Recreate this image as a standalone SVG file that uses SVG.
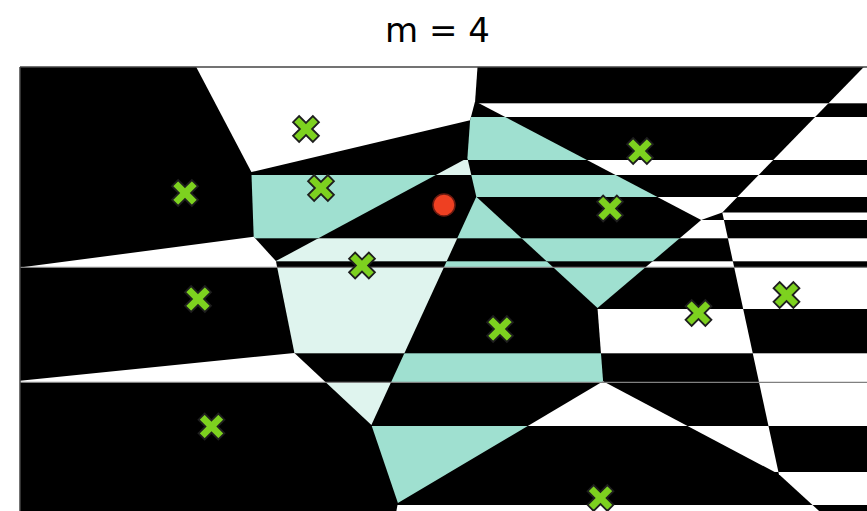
<svg xmlns="http://www.w3.org/2000/svg" width="867" height="511" viewBox="0 0 867 511">
<style>
.w{fill:#ffffff}
.t{fill:#9fe0d0}
.l{fill:#dff4ee}
.site{fill:#7dd11f;stroke:#1e1e1e;stroke-width:1.8;stroke-linejoin:miter}
.grid{stroke:#808080;stroke-width:1.2;fill:none}
.frame{stroke:#444;stroke-width:1.5;fill:none}
</style>
<defs>
<clipPath id="c1"><polygon points="196.2,67 477.5,67 475.1,101.2 470.1,120.2 251.4,172.1"/></clipPath>
<clipPath id="c3"><polygon points="251.4,172.1 470.1,120.2 467.4,158 275.9,261.1 253.7,236.7"/></clipPath>
<clipPath id="c4"><polygon points="467.4,158 476.3,196.8 371.4,425.1 294.4,352.9 275.9,261.1"/></clipPath>
<clipPath id="c5"><polygon points="20,267.6 253.7,236.7 275.9,261.1 294.4,352.9 20,380.7"/></clipPath>
<clipPath id="c6"><polygon points="20,380.7 294.4,352.9 371.4,425.1 397.9,503.1 396.4,511 20,511"/></clipPath>
<clipPath id="c7"><polygon points="476.3,196.8 597.5,307.9 603.1,381.2 397.9,503.1 371.4,425.1"/></clipPath>
<clipPath id="c8"><polygon points="477.5,67 863.8,67 722.3,212.4 701.2,220.1 475.1,101.2"/></clipPath>
<clipPath id="c9"><polygon points="475.1,101.2 701.2,220.1 597.5,307.9 476.3,196.8 467.4,158 470.1,120.2"/></clipPath>
<clipPath id="c10"><polygon points="701.2,220.1 722.3,212.4 778.9,474.3 603.1,381.2 597.5,307.9"/></clipPath>
<clipPath id="c11"><polygon points="722.3,212.4 863.8,67 870,67 870,511 819.1,511 778.9,474.3"/></clipPath>
<clipPath id="c12"><polygon points="397.9,503.1 603.1,381.2 778.9,474.3 819.1,511 396.4,511"/></clipPath>
<polygon id="xm" class="site" points="0,-6.08 6.86,-12.94 12.94,-6.86 6.08,0 12.94,6.86 6.86,12.94 0,6.08 -6.86,12.94 -12.94,6.86 -6.08,0 -12.94,-6.86 -6.86,-12.94"/>
</defs>
<rect x="0" y="0" width="867" height="511" fill="#ffffff"/>
<text x="437.5" y="42" font-family="DejaVu Sans, sans-serif" font-size="34" text-anchor="middle" fill="#000">m = 4</text>
<rect x="20" y="67" width="850" height="444" fill="#000"/>
<g id="cells">
<g id="cell-s1" clip-path="url(#c1)"><rect class="w" x="0" y="67" width="870" height="110"/></g>
<g id="cell-s2"></g>
<g id="cell-s3" clip-path="url(#c3)"><rect class="t" x="0" y="175" width="870" height="63.3"/></g>
<g id="cell-s4" clip-path="url(#c4)">
<rect class="l" x="0" y="160" width="870" height="15"/>
<rect class="l" x="0" y="238.3" width="870" height="23"/>
<rect class="l" x="0" y="267.3" width="870" height="86"/>
<rect class="l" x="0" y="382.3" width="870" height="43.7"/>
</g>
<g id="cell-s5" clip-path="url(#c5)"><rect class="w" x="0" y="230" width="870" height="37.3"/></g>
<g id="cell-s6" clip-path="url(#c6)"><rect class="w" x="0" y="350" width="870" height="32.3"/></g>
<g id="cell-s7" clip-path="url(#c7)">
<rect class="t" x="0" y="196" width="870" height="42.3"/>
<rect class="t" x="0" y="261.3" width="870" height="6"/>
<rect class="t" x="0" y="353.3" width="870" height="29"/>
<rect class="t" x="0" y="426" width="870" height="85"/>
</g>
<g id="cell-s8" clip-path="url(#c8)">
<rect class="w" x="0" y="103.3" width="870" height="13.7"/>
<rect class="w" x="0" y="160" width="870" height="15"/>
<rect class="w" x="0" y="197" width="870" height="25"/>
</g>
<g id="cell-s9" clip-path="url(#c9)">
<rect class="t" x="0" y="117" width="870" height="43"/>
<rect class="t" x="0" y="175" width="870" height="22"/>
<rect class="t" x="0" y="238.3" width="870" height="23"/>
<rect class="t" x="0" y="267.3" width="870" height="42"/>
</g>
<g id="cell-s10" clip-path="url(#c10)">
<rect class="w" x="0" y="220" width="870" height="18.3"/>
<rect class="w" x="0" y="261.3" width="870" height="6"/>
<rect class="w" x="0" y="309" width="870" height="44.3"/>
<rect class="w" x="0" y="426" width="870" height="46"/>
</g>
<g id="cell-s11" clip-path="url(#c11)">
<rect class="w" x="0" y="67" width="870" height="36.3"/>
<rect class="w" x="0" y="117" width="870" height="43"/>
<rect class="w" x="0" y="175" width="870" height="22"/>
<rect class="w" x="0" y="212.5" width="870" height="7.5"/>
<rect class="w" x="0" y="238.3" width="870" height="23"/>
<rect class="w" x="0" y="267.3" width="870" height="41.7"/>
<rect class="w" x="0" y="353.3" width="870" height="72.7"/>
<rect class="w" x="0" y="472" width="870" height="33"/>
</g>
<g id="cell-s12" clip-path="url(#c12)">
<rect class="w" x="0" y="380" width="870" height="46"/>
<rect class="w" x="0" y="505" width="870" height="6"/>
</g>
</g>
<g id="lines">
<line class="grid" x1="20" y1="267.3" x2="870" y2="267.3"/>
<line class="grid" x1="20" y1="382.3" x2="870" y2="382.3"/>
<line class="frame" x1="20" y1="67" x2="870" y2="67"/>
<line class="frame" x1="20" y1="67" x2="20" y2="511"/>
</g>
<g id="sites">
<use id="site-1" href="#xm" x="306" y="129"/>
<use id="site-2" href="#xm" x="185" y="193"/>
<use id="site-3" href="#xm" x="321" y="188"/>
<use id="site-4" href="#xm" x="362" y="265.5"/>
<use id="site-5" href="#xm" x="198" y="299"/>
<use id="site-6" href="#xm" x="211.5" y="426.5"/>
<use id="site-7" href="#xm" x="500" y="329"/>
<use id="site-8" href="#xm" x="640" y="151"/>
<use id="site-9" href="#xm" x="610" y="208.5"/>
<use id="site-10" href="#xm" x="698.5" y="313"/>
<use id="site-11" href="#xm" x="786.5" y="295"/>
<use id="site-12" href="#xm" x="600.5" y="498"/>
</g>
<g id="query"><circle cx="444" cy="205" r="11" fill="#ee4022" stroke="#6b1a10" stroke-width="1.5"/></g>
</svg>
